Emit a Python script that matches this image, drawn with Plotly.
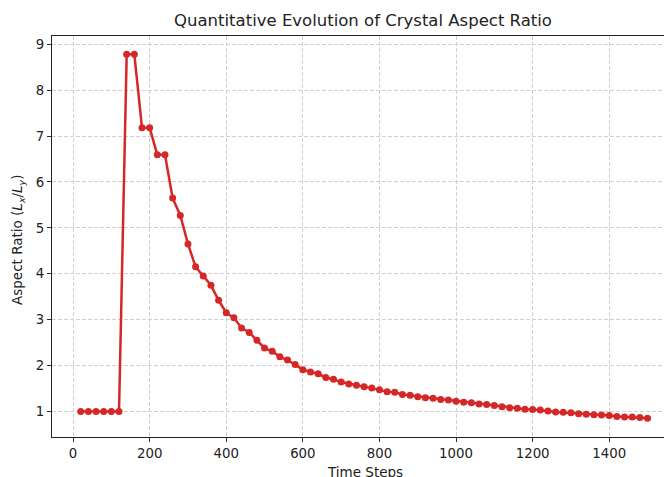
import plotly.graph_objects as go

steps = list(range(20, 1501, 20))
aspect_ratio = [
    1.0, 1.0, 1.0, 1.0, 1.0, 1.0,
    8.78, 8.78, 7.18, 7.18, 6.59, 6.59,
    5.65, 5.27, 4.65, 4.15, 3.95, 3.75, 3.42, 3.15,
    3.04, 2.82, 2.72, 2.55, 2.38, 2.31, 2.19, 2.12, 2.02, 1.91,
    1.86, 1.82, 1.74, 1.70, 1.64, 1.60, 1.57, 1.54, 1.51, 1.47,
    1.43, 1.42, 1.37, 1.35, 1.32, 1.30, 1.29, 1.26, 1.25, 1.22,
    1.20, 1.19, 1.16, 1.15, 1.13, 1.10, 1.08, 1.07, 1.05, 1.04,
    1.03, 1.01, 0.99, 0.98, 0.97, 0.95, 0.94, 0.93, 0.92, 0.91,
    0.89, 0.88, 0.88, 0.87, 0.85,
]
x_ticks = [0, 200, 400, 600, 800, 1000, 1200, 1400]
y_ticks = [1, 2, 3, 4, 5, 6, 7, 8, 9]

title_text = "Quantitative Evolution of Crystal Aspect Ratio"
x_label = "Time Steps"
y_label = "Aspect Ratio (<i>L<sub>x</sub></i>/<i>L<sub>y</sub></i>)"

FONT = "DejaVu Sans"
RED = "#d62728"

fig = go.Figure()
fig.add_trace(go.Scatter(
    x=steps, y=aspect_ratio, mode="lines+markers",
    line=dict(color=RED, width=2.5),
    marker=dict(color=RED, size=7, symbol="circle"),
    showlegend=False,
))

W, H = 664, 477
L, R, T, B = 52, 0, 36, 40

fig.update_layout(
    width=W, height=H,
    margin=dict(l=L, r=R, t=T, b=B),
    paper_bgcolor="white", plot_bgcolor="white",
    font=dict(family=FONT, size=12, color="#222"),
    title=dict(text=title_text, xref="container", x=363 / W, xanchor="center",
               yref="container", y=1 - 20 / H, yanchor="middle",
               font=dict(family=FONT, size=16.5, color="#222")),
)
fig.update_xaxes(
    range=[-55, 1543], tickvals=x_ticks, ticks="outside", ticklen=4, tickcolor="#333",
    showline=True, linecolor="#222", linewidth=1, mirror=True,
    showgrid=True, gridcolor="#d0d0d0", griddash="4px,2px", gridwidth=1,
    zeroline=False, tickfont=dict(size=13.3, color="#222"),
)
fig.update_yaxes(
    range=[0.443, 9.18], tickvals=y_ticks, ticks="outside", ticklen=4, tickcolor="#333",
    showline=True, linecolor="#222", linewidth=1, mirror=False,
    showgrid=True, gridcolor="#d0d0d0", griddash="4px,2px", gridwidth=1,
    zeroline=False, tickfont=dict(size=13.3, color="#222"),
)

plot_h = H - T - B
plot_w = W - L - R
fig.add_annotation(text=x_label, xref="x", x=762, yref="paper",
                   y=(H - B - 462) / plot_h, yanchor="top", xanchor="center",
                   showarrow=False, font=dict(family=FONT, size=13.5, color="#222"))
fig.add_annotation(text=y_label, xref="paper", x=(18 - L) / plot_w,
                   yref="paper", y=(H - B - 240) / plot_h, textangle=-90,
                   xanchor="center", yanchor="middle",
                   showarrow=False, font=dict(family=FONT, size=13.5, color="#222"))

fig.write_html(
    "out.html",
    config={"displayModeBar": False},
    post_script="document.body.style.margin='0';document.body.style.overflow='hidden';",
)
